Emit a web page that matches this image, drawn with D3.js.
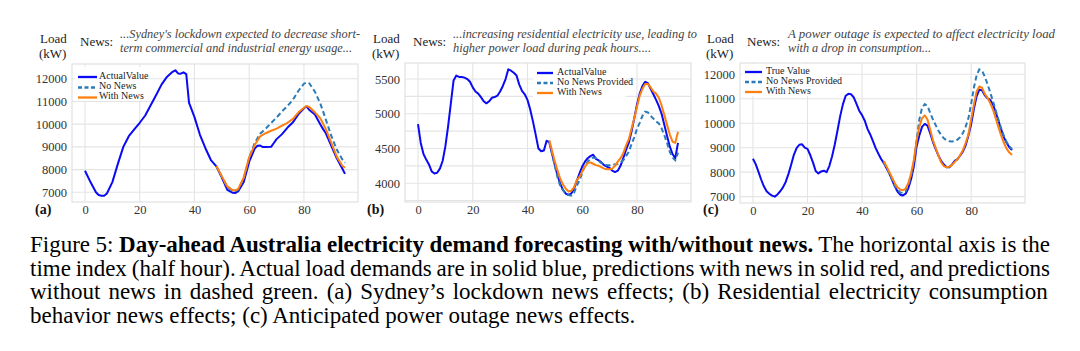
<!DOCTYPE html>
<html><head><meta charset="utf-8">
<script src="https://cdn.jsdelivr.net/npm/d3@7"></script>
<style>
body{margin:0;background:#fff}
svg{display:block}
</style>
</head><body>
<svg id="chart" width="1080" height="351"></svg>
<script>
// ---------- DATA ----------
const xTicks = [0, 20, 40, 60, 80];

// Panel (a) Sydney lockdown
const aActualX = [0,2,4,5,6,7,8,10,12,14,16,18,20,22,24,26,28,30,32,33,34,35,36,37,38,40,42,44,46,48,50,52,54,55,56,58,60,62,63,64,65,66,68,69,70,72,74,76,78,80,81,82,84,85,86,87,88,90,92,94,95];
const aActual  = [7950,7450,7000,6880,6850,6850,6950,7450,8250,9000,9470,9770,10060,10380,10830,11280,11750,12090,12300,12370,12230,12220,12280,12200,10950,10310,9530,8940,8420,8140,7650,7110,6980,6970,7050,7450,8350,8920,9050,9060,8990,8990,9000,9170,9340,9560,9850,10080,10440,10700,10780,10620,10420,10200,9980,9780,9600,9050,8500,8050,7810];
const aPredX    = [48,50,52,54,55,56,58,60,62,64,66,68,70,72,74,76,78,80,81,82,84,86,88,90,92,94,95];
const aWithNews = [8160,7700,7260,7090,7090,7150,7650,8550,9080,9460,9600,9710,9800,9930,10060,10230,10520,10720,10800,10750,10520,10250,9780,9180,8570,8170,8080];
const aNoNews   = [8140,7680,7230,7060,7060,7120,7620,8520,9170,9580,9800,10050,10290,10560,10800,11080,11470,11780,11840,11790,11430,10900,10200,9480,8880,8450,8300];
const aYTicks = [7000,8000,9000,10000,11000,12000];
const aYGrid  = [7000,8000,9000,10000,11000,12000];
const aLegend = ["ActualValue","No News","With News"];
const aNews = ["...Sydney's lockdown expected to decrease short-","term commercial and industrial energy usage..."];

// Panel (b) residential consumption
const bActualX = d3.range(0, 96);
const bActual = [4850,4580,4420,4340,4270,4170,4140,4150,4210,4320,4530,4820,5150,5480,5550,5530,5530,5520,5500,5460,5380,5320,5290,5240,5180,5150,5180,5230,5240,5260,5320,5400,5500,5640,5620,5590,5550,5420,5330,5280,5200,5060,4890,4700,4500,4460,4470,4610,4590,4420,4260,4110,3990,3900,3850,3830,3850,3920,4030,4140,4240,4310,4360,4390,4410,4350,4330,4300,4260,4240,4220,4180,4160,4180,4250,4360,4480,4580,4740,4930,5130,5290,5400,5460,5440,5360,5280,5200,5110,5000,4840,4680,4530,4420,4360,4580];
const bPredX = d3.range(48, 96);
const bWithNews = [4620,4460,4310,4180,4060,3980,3920,3880,3890,3940,4040,4090,4170,4240,4290,4300,4280,4260,4250,4230,4210,4200,4200,4210,4250,4310,4360,4430,4540,4630,4780,4930,5100,5260,5360,5430,5430,5380,5320,5290,5230,5120,4980,4840,4700,4600,4580,4740];
const bNoNews   = [4590,4420,4250,4080,3960,3900,3860,3830,3820,3860,3960,4040,4150,4250,4310,4350,4370,4360,4320,4290,4270,4260,4260,4270,4270,4280,4300,4330,4390,4450,4560,4660,4780,4870,4970,5030,5020,4970,4930,4890,4860,4790,4690,4580,4450,4370,4330,4440];
const bYTicks = [4000,4500,5000,5500];
const bYGrid  = [3750,4000,4250,4500,4750,5000,5250,5500,5750];
const bLegend = ["ActualValue","No News Provided","With News"];
const bNews = ["...increasing residential electricity use, leading to","higher power load during peak hours...."];

// Panel (c) power outage
const cActualX = d3.range(0, 96);
const cActual = [8550,8330,8020,7700,7420,7220,7120,7040,7000,7090,7220,7380,7600,7920,8300,8710,8980,9120,9140,9000,8950,8700,8400,8050,7950,8030,8060,8000,8250,8640,9130,9700,10300,10780,11120,11200,11180,11050,10780,10500,10330,10100,9770,9540,9270,8980,8750,8540,8370,8160,7950,7680,7420,7210,7080,7050,7120,7350,7720,8240,9050,9500,9850,9970,9900,9580,9230,8940,8680,8460,8310,8200,8200,8320,8460,8530,8680,8850,9100,9500,9950,10580,11100,11370,11350,11140,11020,10950,10760,10450,10100,9750,9420,9200,9020,8900];
const cPredX = d3.range(48, 96);
const cWithNews = [8450,8230,8000,7780,7550,7380,7290,7260,7330,7560,7950,8510,9300,9850,10200,10320,10150,9730,9300,8990,8680,8400,8250,8200,8220,8300,8420,8530,8700,8900,9200,9540,10150,10750,11300,11500,11450,11200,11040,10820,10560,10200,9840,9500,9200,8960,8800,8700];
const cNoNews   = [8410,8180,7950,7700,7450,7280,7170,7150,7220,7470,7870,8400,9300,10150,10630,10780,10700,10420,10150,9920,9700,9520,9380,9300,9260,9250,9270,9330,9430,9600,9860,10200,10780,11450,11950,12200,12150,11900,11600,11250,10900,10520,10150,9800,9480,9230,9050,8950];
const cYTicks = [7000,8000,9000,10000,11000,12000];
const cYGrid  = [7000,8000,9000,10000,11000,12000];
const cLegend = ["True Value","No News Provided","With News"];
const cNews = ["A power outage is expected to affect electricity load","with a drop in consumption..."];

const panelLetters = ["(a)","(b)","(c)"];
const captionLines = [
  [["Figure 5: ",false],["Day-ahead Australia electricity demand forecasting with/without news.",true],[" The horizontal axis is the",false]],
  [["time index (half hour). Actual load demands are in solid blue, predictions with news in solid red, and predictions",false]],
  [["without news in dashed green.  (a) Sydney\u2019s lockdown news effects; (b) Residential electricity consumption",false]],
  [["behavior news effects; (c) Anticipated power outage news effects.",false]]
];

// ---------- STYLE / LAYOUT ----------
const FONT = '"Liberation Serif"';
const COL_ACT = "#0a0af5", COL_NO = "#2b7bb9", COL_WITH = "#ff7f0e";
const svg = d3.select("#chart");

const layouts = [
  {left:72, right:358, top:64, bottom:202, loadX:40, newsX:80, newsTextX:120, newsW:[240,232], letterX:35,
   legend:{x:75,y:67,w:66,h:34,l1:78,l2:97,tx:99,rows:[75,85.5,95.5]}},
  {left:405, right:691, top:63, bottom:202, loadX:373, newsX:413, newsTextX:453, newsW:[244,198], letterX:367,
   legend:{x:533,y:65,w:93,h:32,l1:537,l2:553,tx:557,rows:[71,81,91]}},
  {left:740, right:1025, top:63, bottom:203, loadX:707, newsX:747, newsTextX:788, newsW:[267,143], letterX:703,
   legend:{x:742,y:64,w:95,h:32,l1:745,l2:762,tx:766,rows:[70,80,90]}}
];

const panels = [
  {actX:aActualX, act:aActual, predX:aPredX, withN:aWithNews, noN:aNoNews, yTicks:aYTicks, yGrid:aYGrid, legend:aLegend, news:aNews},
  {actX:bActualX, act:bActual, predX:bPredX, withN:bWithNews, noN:bNoNews, yTicks:bYTicks, yGrid:bYGrid, legend:bLegend, news:bNews},
  {actX:cActualX, act:cActual, predX:cPredX, withN:cWithNews, noN:cNoNews, yTicks:cYTicks, yGrid:cYGrid, legend:cLegend, news:cNews}
];

function txt(sel) { return sel.style("font-family", FONT); }

panels.forEach((p, i) => {
  const L = layouts[i];
  const g = svg.append("g");
  const xs = d3.scaleLinear().domain([-4.75, 99.75]).range([L.left, L.right]);
  const all = p.act.concat(p.withN, p.noN);
  const mn = d3.min(all), mx = d3.max(all), pad = (mx - mn) * 0.05;
  const ys = d3.scaleLinear().domain([mn - pad, mx + pad]).range([L.bottom, L.top]);

  // grid
  g.append("g").selectAll("line").data(p.yGrid.filter(v => v >= mn - pad && v <= mx + pad)).join("line")
    .attr("x1", L.left).attr("x2", L.right).attr("y1", d => ys(d)).attr("y2", d => ys(d))
    .attr("stroke", "#e4e4e4").attr("stroke-width", 1.1);
  g.append("g").selectAll("line").data(xTicks).join("line")
    .attr("x1", d => xs(d)).attr("x2", d => xs(d)).attr("y1", L.top).attr("y2", L.bottom)
    .attr("stroke", "#e4e4e4").attr("stroke-width", 1.1);
  g.append("rect").attr("x", L.left).attr("y", L.top).attr("width", L.right - L.left).attr("height", L.bottom - L.top)
    .attr("fill", "none").attr("stroke", "#e2e2e2").attr("stroke-width", 1.2);

  // axes
  const ax = g.append("g").attr("transform", `translate(${L.left},0)`)
    .call(d3.axisLeft(ys).tickValues(p.yTicks).tickSize(0).tickPadding(5).tickFormat(d3.format("d")));
  const bx = g.append("g").attr("transform", `translate(0,${L.bottom})`)
    .call(d3.axisBottom(xs).tickValues(xTicks).tickSize(0).tickPadding(3).tickFormat(d3.format("d")));
  [ax, bx].forEach(a => {
    a.select(".domain").remove();
    a.attr("font-family", null);
    txt(a.selectAll("text")).style("font-size", "12.5px").attr("fill", "#333");
  });

  // lines
  const line = d3.line().x(d => xs(d[0])).y(d => ys(d[1]));
  const actPts = p.actX.map((x, k) => [x, p.act[k]]);
  const noPts = p.predX.map((x, k) => [x, p.noN[k]]);
  const withPts = p.predX.map((x, k) => [x, p.withN[k]]);
  g.append("path").attr("d", line(actPts)).attr("fill", "none").attr("stroke", COL_ACT).attr("stroke-width", 2).attr("stroke-linejoin", "round");
  g.append("path").attr("d", line(noPts)).attr("fill", "none").attr("stroke", COL_NO).attr("stroke-width", 2).attr("stroke-dasharray", "5,3");
  g.append("path").attr("d", line(withPts)).attr("fill", "none").attr("stroke", COL_WITH).attr("stroke-width", 2).attr("stroke-linejoin", "round");

  // legend
  const lg = L.legend;
  g.append("rect").attr("x", lg.x).attr("y", lg.y).attr("width", lg.w).attr("height", lg.h)
    .attr("fill", "#fff").attr("fill-opacity", 0.9).attr("stroke", "none");
  const styles = [[COL_ACT, null], [COL_NO, "4,2.5"], [COL_WITH, null]];
  p.legend.forEach((t, k) => {
    g.append("line").attr("x1", lg.l1).attr("x2", lg.l2).attr("y1", lg.rows[k] + 2).attr("y2", lg.rows[k] + 2)
      .attr("stroke", styles[k][0]).attr("stroke-width", 2.3).attr("stroke-dasharray", styles[k][1]);
    txt(g.append("text").attr("x", lg.tx).attr("y", lg.rows[k] + 3.5)).style("font-size", "10px").attr("fill", "#222").text(t);
  });

  // header
  txt(g.append("text").attr("x", L.loadX).attr("y", 43)).style("font-size", "13px").attr("fill", "#222").text("Load");
  txt(g.append("text").attr("x", L.loadX - 1).attr("y", 57.5)).style("font-size", "13px").attr("fill", "#222").text("(kW)");
  txt(g.append("text").attr("x", L.newsX).attr("y", 46)).style("font-size", "13px").attr("fill", "#222").text("News:");
  p.news.forEach((t, k) => {
    txt(g.append("text").attr("x", L.newsTextX).attr("y", 37.5 + k * 14.5)).style("font-size", "13px")
      .style("font-style", "italic").attr("fill", "#444")
      .attr("textLength", L.newsW[k]).attr("lengthAdjust", "spacingAndGlyphs").text(t);
  });
  txt(g.append("text").attr("x", L.letterX).attr("y", 214)).style("font-size", "14px").style("font-weight", "bold")
    .attr("fill", "#111").text(panelLetters[i]);
});

// caption (justified lines 1-3)
const capX = 30, capRight = 1050, capY0 = 252, capDy = 23.6;
captionLines.forEach((segs, k) => {
  const t = txt(svg.append("text").attr("x", capX).attr("y", capY0 + k * capDy)).style("font-size", "23px").attr("fill", "#000");
  segs.forEach(s => t.append("tspan").style("font-weight", s[1] ? "bold" : "normal").text(s[0]));
  if (k < captionLines.length - 1) {
    const w = t.node().getComputedTextLength();
    const spaces = segs.map(s => s[0]).join("").split(" ").length - 1;
    if (spaces > 0) t.style("word-spacing", ((capRight - capX - w) / spaces) + "px");
  }
});
</script>
</body></html>
